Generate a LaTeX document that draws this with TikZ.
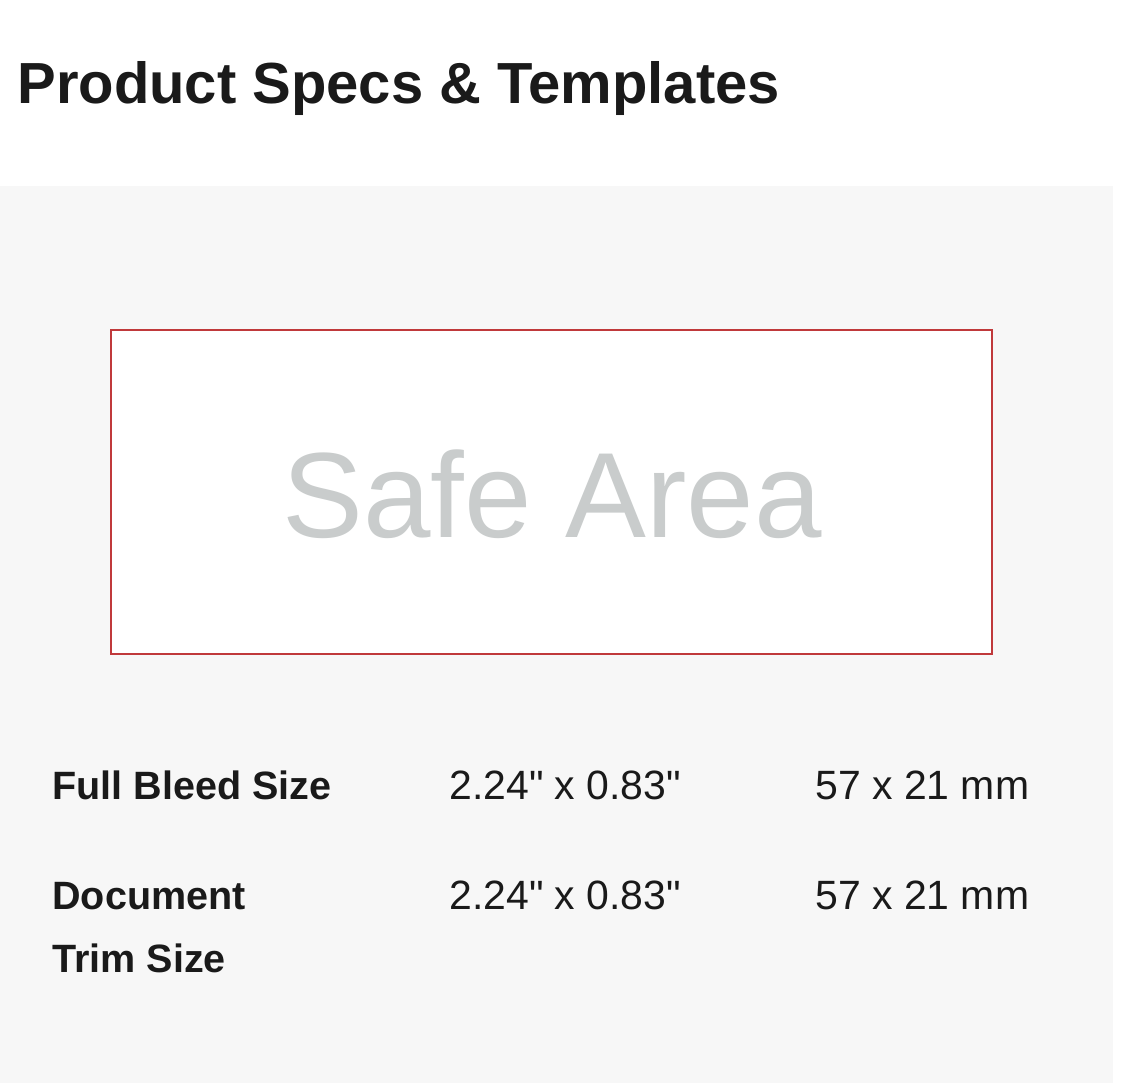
\documentclass[tikz,border=0pt]{standalone}
\usepackage{fontspec}
\setmainfont{Liberation Sans}
\definecolor{panelgray}{HTML}{F7F7F7}
\definecolor{safered}{HTML}{C0393B}
\definecolor{safegray}{HTML}{C9CCCC}
\definecolor{inkblack}{HTML}{1A1A1A}
\begin{document}
\begin{tikzpicture}[
                x=0.02cm, y=-0.02cm,
                every node/.style={inner sep=0pt, text=inkblack},
                heading/.style={anchor=base west, font=\fontsize{33}{40}\selectfont\bfseries},
                speclabel/.style={anchor=base west, font=\fontsize{22.5}{28}\selectfont\bfseries, align=left},
                specvalue/.style={anchor=base west, font=\fontsize{23.3}{28}\selectfont},
                safebox/.style={draw=safered, line width=1.1pt, fill=white},
            ]
            \useasboundingbox (0,0) rectangle (1134,1089);
            \fill[panelgray] (0,186) rectangle (1113,1083);
            \node[heading] (title) at (17,103) {Product Specs \& Templates};
            \draw[safebox] (111,330) rectangle (992,654);
            \node[anchor=base, text=safegray, font=\fontsize{69}{80}\selectfont] (safe) at (552,537) {Safe Area};
            \node[speclabel] (bleed) at (52,799) {Full Bleed Size};
            \node[specvalue] (bleedin) at (449,799) {2.24\textquotedbl{} x 0.83\textquotedbl};
            \node[specvalue] (bleedmm) at (815,799) {57 x 21 mm};
            \node[speclabel] (trim) at (52,909) {Document};
            \node[speclabel] (trimb) at (52,972) {Trim Size};
            \node[specvalue] (trimin) at (449,909) {2.24\textquotedbl{} x 0.83\textquotedbl};
            \node[specvalue] (trimmm) at (815,909) {57 x 21 mm};
            \end{tikzpicture}
\end{document}
